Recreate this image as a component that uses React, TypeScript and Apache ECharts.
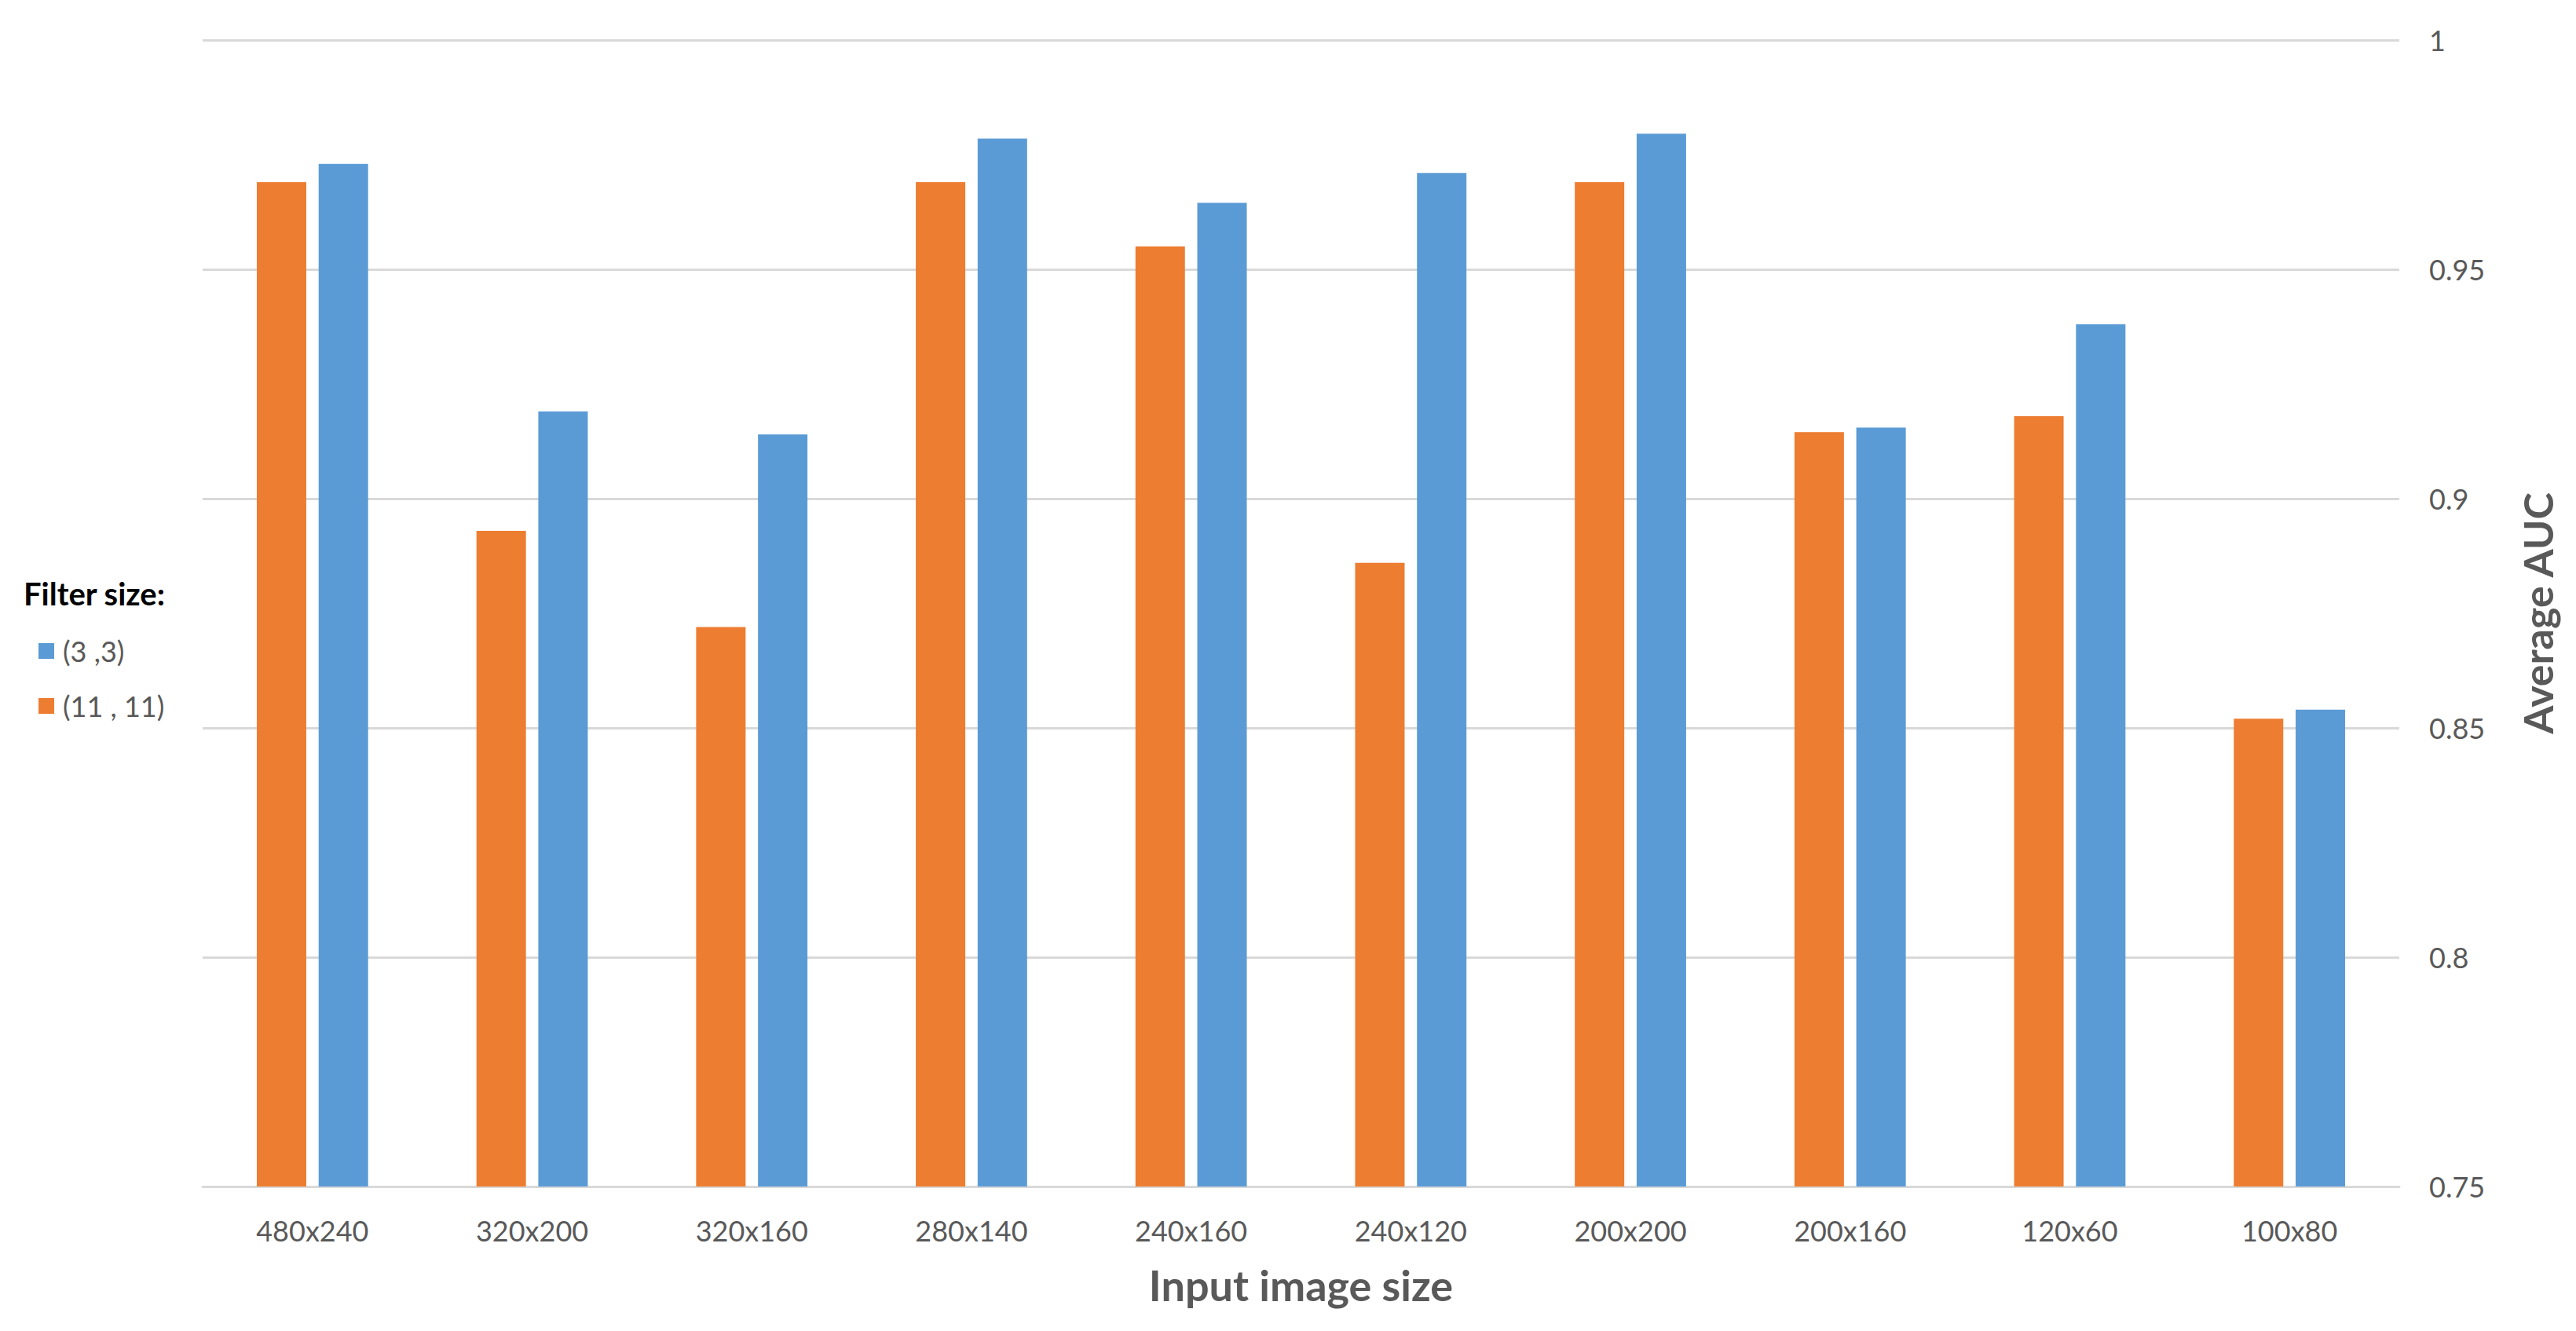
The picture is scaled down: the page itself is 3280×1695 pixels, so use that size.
import React, { useEffect, useRef } from "react";
import * as echarts from "echarts";

const categories = ["480x240", "320x200", "320x160", "280x140", "240x160", "240x120", "200x200", "200x160", "120x60", "100x80"];
const filter33 = [0.973, 0.919, 0.914, 0.9785, 0.9645, 0.971, 0.9796, 0.9155, 0.938, 0.854];
const filter1111 = [0.969, 0.893, 0.872, 0.969, 0.955, 0.886, 0.969, 0.9145, 0.918, 0.852];
const seriesNames = ["(3 ,3)", "(11 , 11)"];
const yTicks = { min: 0.75, max: 1, interval: 0.05 };

const FONT = "Lato, 'Open Sans', sans-serif";
const GREY = "#595959";

export default function App() {
  const ref = useRef<HTMLDivElement>(null);
  useEffect(() => {
    document.body.style.margin = "0";
    const chart = echarts.init(ref.current!, undefined, { renderer: "svg" });
    chart.setOption({
      animation: false,
      backgroundColor: "#ffffff",
      grid: { left: 258, right: 225, top: 51, bottom: 184, containLabel: false },
      legend: {
        data: seriesNames,
        orient: "vertical",
        left: 44,
        top: 806,
        icon: "rect",
        itemWidth: 20,
        itemHeight: 20,
        itemGap: 34,
        textStyle: { color: GREY, fontSize: 36, fontFamily: FONT, padding: [0, 0, 0, 6] },
      },
      graphic: [
        {
          type: "text",
          left: 30,
          top: 736,
          style: { text: "Filter size:", fill: "#000000", font: `bold 40px ${FONT}` },
        },
      ],
      xAxis: {
        type: "category",
        data: categories,
        axisLine: { show: true, lineStyle: { color: "#D9D9D9", width: 3 } },
        axisTick: { show: false },
        axisLabel: { color: GREY, fontSize: 36, fontFamily: FONT, margin: 38 },
        name: "Input image size",
        nameLocation: "middle",
        nameGap: 98,
        nameTextStyle: { color: GREY, fontSize: 54, fontWeight: "bold", fontFamily: FONT },
      },
      yAxis: {
        type: "value",
        position: "right",
        min: yTicks.min,
        max: yTicks.max,
        interval: yTicks.interval,
        axisLine: { show: false },
        axisTick: { show: false },
        splitLine: { show: true, lineStyle: { color: "#D9D9D9", width: 3 } },
        axisLabel: { color: GREY, fontSize: 36, fontFamily: FONT, margin: 38, align: "left" },
        name: "Average AUC",
        nameLocation: "middle",
        nameRotate: 90,
        nameGap: 150,
        nameTextStyle: { color: GREY, fontSize: 52, fontWeight: "bold", fontFamily: FONT },
      },
      series: [
        {
          name: seriesNames[1],
          type: "bar",
          data: filter1111,
          barWidth: 63,
          barGap: "25%",
          itemStyle: { color: "#ED7D31" },
        },
        {
          name: seriesNames[0],
          type: "bar",
          data: filter33,
          barWidth: 63,
          barGap: "25%",
          itemStyle: { color: "#5B9BD5" },
        },
      ],
    });
    return () => chart.dispose();
  }, []);
  return <div ref={ref} style={{ position: "fixed", left: 0, top: 0, width: 3280, height: 1695 }} />;
}
